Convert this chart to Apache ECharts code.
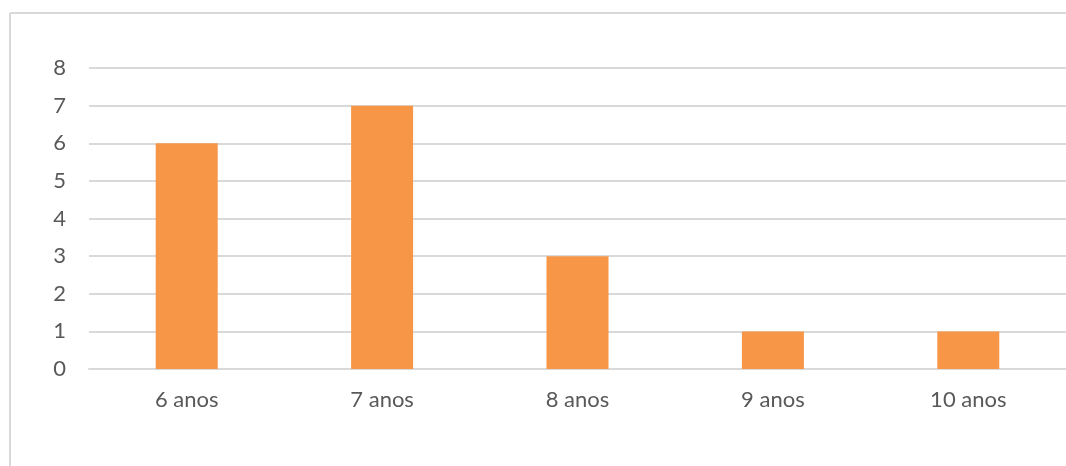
<!DOCTYPE html>
<html><head><meta charset="utf-8">
<script src="https://cdn.jsdelivr.net/npm/echarts@6/dist/echarts.min.js"></script>
<style>
html,body{margin:0;padding:0;background:#fff;overflow:hidden}
#c{position:absolute;left:0;top:0;width:1066px;height:466px}
</style></head>
<body>
<div id="c"></div>
<script>
const categories = ['6 anos','7 anos','8 anos','9 anos','10 anos'];
const values = [6,7,3,1,1];
const yTicks = {min:0, max:8, interval:1};

const chart = echarts.init(document.getElementById('c'), null, {renderer:'canvas'});
chart.setOption({
  backgroundColor:'#fff',
  animation:false,
  graphic:[
    {type:'line', silent:true, z:-10, shape:{x1:10, y1:13, x2:1066, y2:13}, style:{stroke:'#d9d9d9', lineWidth:2}},
    {type:'line', silent:true, z:-10, shape:{x1:10, y1:13, x2:10, y2:466}, style:{stroke:'#d9d9d9', lineWidth:2}}
  ],
  grid:{left:89, width:990, top:68, height:301, containLabel:false},
  xAxis:{
    type:'category', data:categories,
    axisLine:{show:true, lineStyle:{color:'#d9d9d9', width:2}},
    axisTick:{show:false},
    axisLabel:{color:'#595959', fontFamily:'Lato', fontSize:22, margin:20}
  },
  yAxis:{
    type:'value', min:yTicks.min, max:yTicks.max, interval:yTicks.interval,
    axisLine:{show:false}, axisTick:{show:false},
    axisLabel:{color:'#595959', fontFamily:'Lato', fontSize:22, margin:23},
    splitLine:{lineStyle:{color:'#d9d9d9', width:2}}
  },
  series:[{
    type:'bar', data:values, barWidth:62,
    itemStyle:{color:'#F79646'}
  }]
});
</script>
</body></html>
